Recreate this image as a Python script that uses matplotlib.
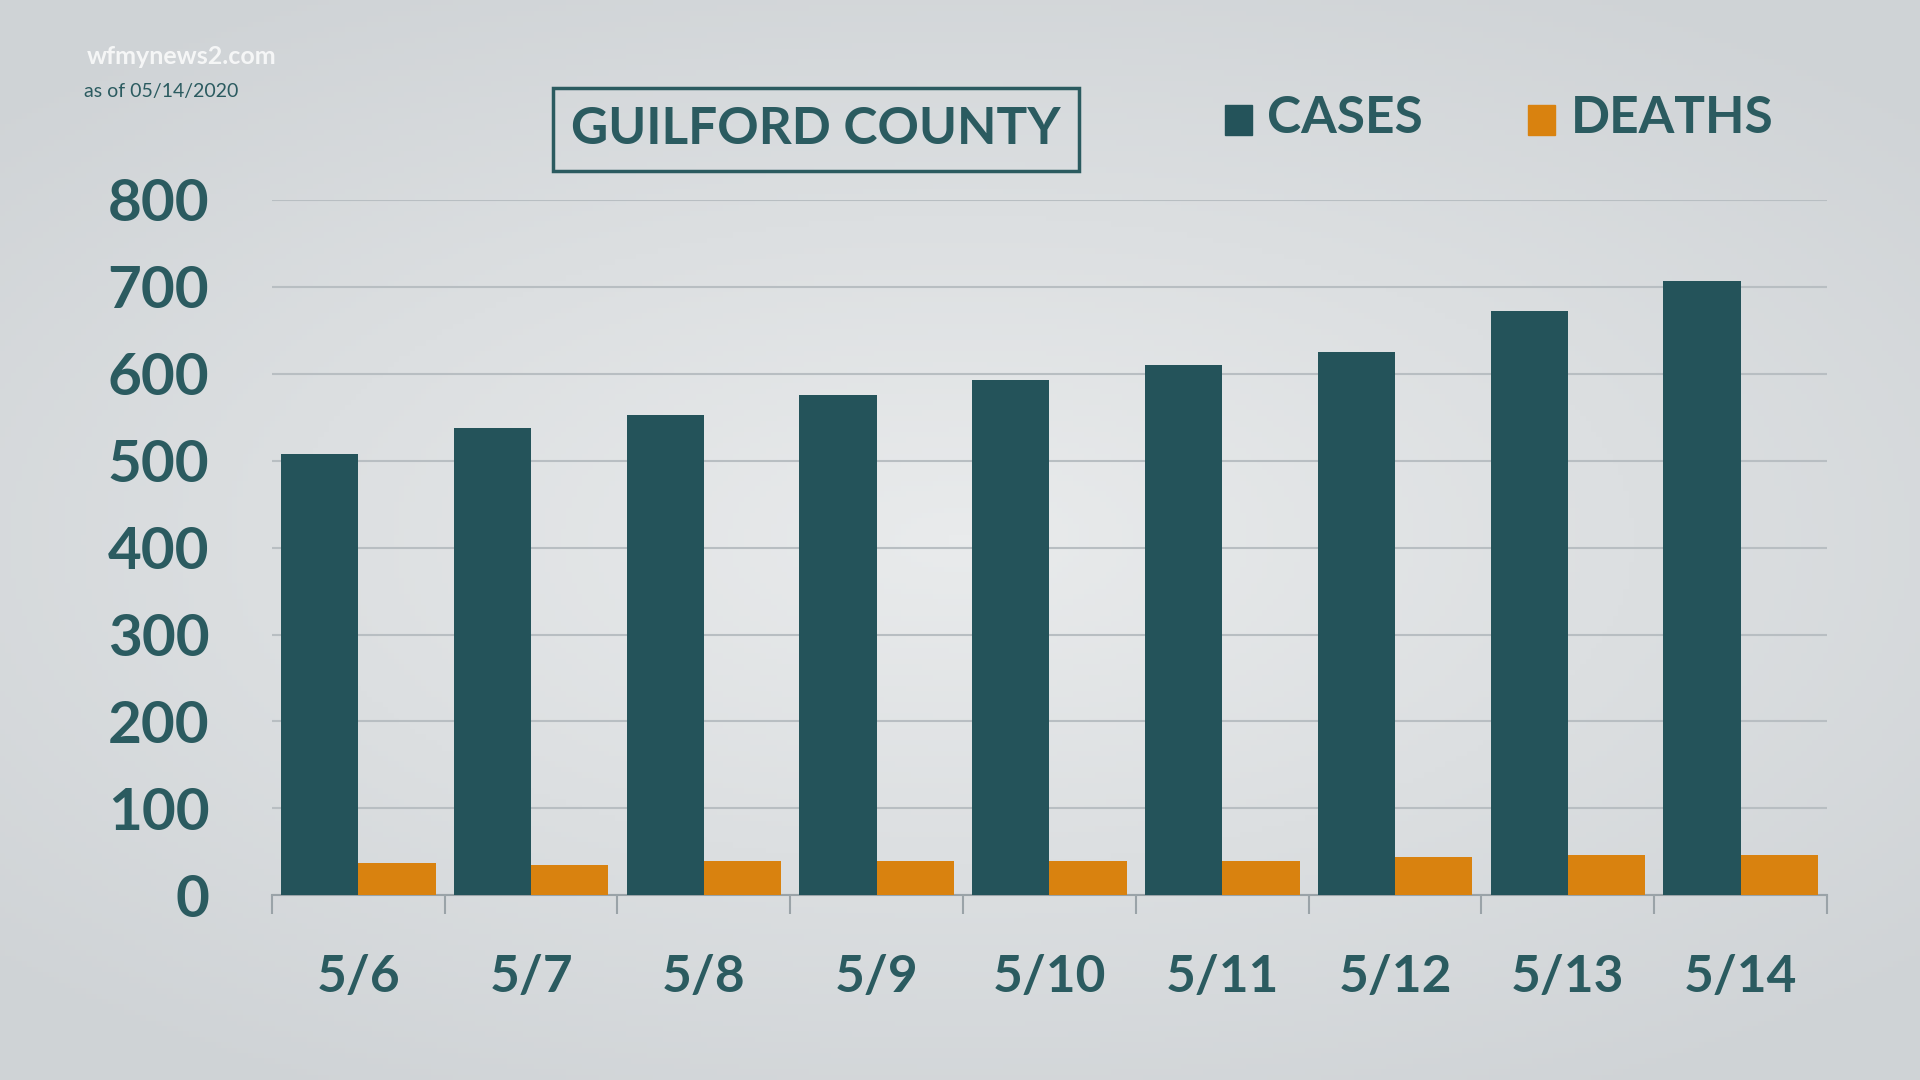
import matplotlib.pyplot as plt
import numpy as np
from matplotlib.patches import Rectangle

dates = ['5/6', '5/7', '5/8', '5/9', '5/10', '5/11', '5/12', '5/13', '5/14']
cases = [508, 538, 553, 575, 593, 610, 625, 672, 707]
deaths = [37, 35, 39, 39, 39, 39, 44, 46, 46]

TEAL = '#24535a'
ORANGE = '#d9820f'
TEXT = '#2b5b60'

plt.rcParams['font.family'] = ['Lato', 'DejaVu Sans']

fig = plt.figure(figsize=(19.2, 10.8), dpi=100)

# Soft radial gradient background
bg = fig.add_axes([0, 0, 1, 1])
yy, xx = np.mgrid[0:1:200j, 0:1:356j]
r = np.sqrt(((xx - 0.5) / 0.7) ** 2 + ((yy - 0.5) / 0.6) ** 2)
bg.imshow(np.clip(r, 0, 1), cmap=plt.matplotlib.colors.LinearSegmentedColormap.from_list(
    'bg', ['#e9ebec', '#cfd3d6']), aspect='auto', extent=[0, 1, 0, 1])
bg.axis('off')

ax = fig.add_axes([0.1416, 0.171, 0.81, 0.644])
ax.patch.set_alpha(0)
x = np.arange(len(dates))
w = 0.447
ax.bar(x - w / 2, cases, w, color=TEAL, zorder=3)
ax.bar(x + w / 2, deaths, w, color=ORANGE, zorder=3)

ax.set_xlim(-0.5, len(dates) - 0.5)
ax.set_ylim(0, 800)
ax.set_yticks(range(0, 801, 100))
ax.yaxis.grid(True, color='#b8bec2', linewidth=1.5, zorder=0)
ax.tick_params(axis='y', length=0, labelsize=42, labelcolor=TEXT, pad=45)
ax.set_xticks(x)
ax.set_xticklabels(dates)
ax.tick_params(axis='x', length=0, labelsize=37, labelcolor=TEXT, pad=42)
ax.set_xticks(np.arange(-0.5, len(dates)), minor=True)
ax.tick_params(axis='x', which='minor', length=14, width=1.5, color='#9aa3a8')
for s in ['top', 'right', 'left']:
    ax.spines[s].set_visible(False)
ax.spines['bottom'].set_color('#9aa3a8')
ax.spines['bottom'].set_linewidth(1.5)
for lab in ax.get_yticklabels():
    lab.set_fontweight('bold')
for lab in ax.get_xticklabels():
    lab.set_fontweight('bold')

# Title in box
fig.text(0.425, 0.880, 'GUILFORD COUNTY', ha='center', va='center', fontsize=37,
         color=TEXT, fontweight='bold',
         bbox=dict(boxstyle='square,pad=0.35', fc='none', ec=TEXT, lw=2.5))

# Legend
for sx, label, col in [(0.638, 'CASES', TEAL), (0.796, 'DEATHS', ORANGE)]:
    fig.patches.append(Rectangle((sx, 0.875), 0.014, 0.028, color=col,
                                 transform=fig.transFigure))
    fig.text(sx + 0.022, 0.890, label, ha='left', va='center', fontsize=37,
             color=TEXT, fontweight='bold')

fig.text(0.045, 0.948, 'wfmynews2.com', ha='left', va='center', fontsize=18,
         color='white', alpha=0.8, fontweight='bold')
fig.text(0.044, 0.915, 'as of 05/14/2020', ha='left', va='center', fontsize=14,
         color=TEXT)

fig.savefig('out.png', dpi=100)
